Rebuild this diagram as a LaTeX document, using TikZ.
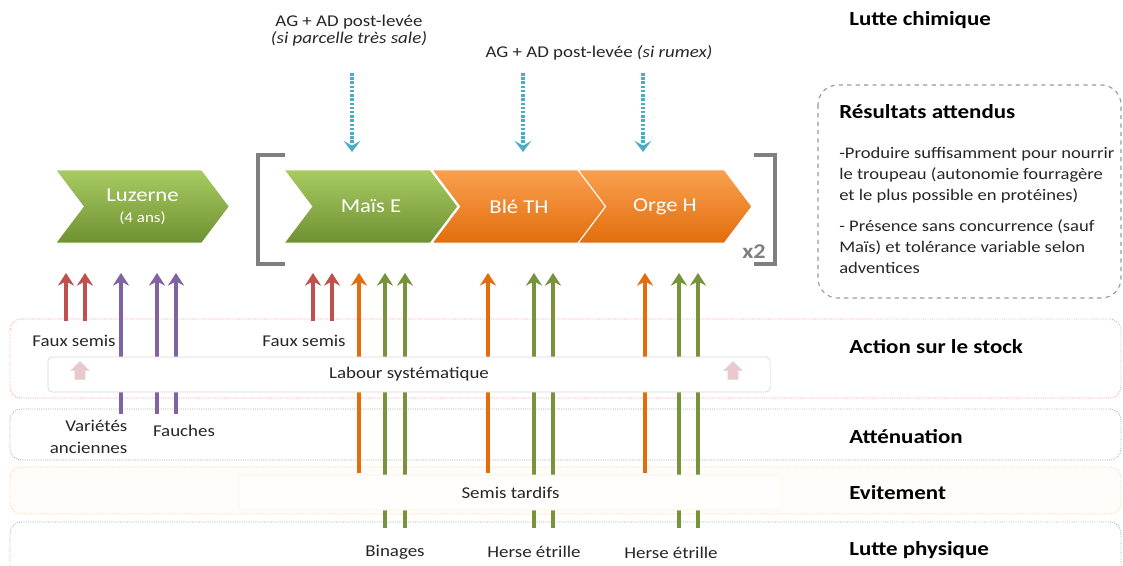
\documentclass[tikz,border=0pt]{standalone}
\usepackage{fontspec}
\setmainfont{Carlito}[FakeStretch=1.15]
\usetikzlibrary{arrows.meta,shapes.symbols,shapes.arrows}

\definecolor{grnTop}{HTML}{A9CB63}
\definecolor{grnBot}{HTML}{6E9131}
\definecolor{orgTop}{HTML}{FAA050}
\definecolor{orgBot}{HTML}{E26D0C}
\definecolor{redA}{HTML}{C0504D}
\definecolor{purp}{HTML}{8064A2}
\definecolor{orng}{HTML}{E46C0A}
\definecolor{grn}{HTML}{77933C}
\definecolor{chemblue}{HTML}{4BACC6}
\definecolor{brk}{HTML}{7F7F7F}
\definecolor{pinkfill}{HTML}{EBC8CD}

\begin{document}
\begin{tikzpicture}[x=0.025cm, y=-0.025cm,
  lbl/.style={font=\fontsize{11.7}{15.6}\selectfont, text=black!85, inner sep=1pt},
  level/.style={font=\bfseries\fontsize{14.2}{17}\selectfont, anchor=west, inner sep=0pt},
  body/.style={font=\fontsize{11.5}{14.9}\selectfont, text=black!85, anchor=base west,
               align=left, inner sep=0pt},
  chev/.style={signal, signal from=west, signal to=east, signal pointer angle=106,
               minimum width=4.35cm, minimum height=1.83cm, inner sep=0pt, draw=white,
               line width=0.8pt, text=white, font=\fontsize{14}{17}\selectfont, align=center},
  green chev/.style={chev, top color=grnTop, bottom color=grnBot},
  orange chev/.style={chev, top color=orgTop, bottom color=orgBot},
  up/.style={-{Stealth[length=9pt, width=11.5pt, inset=3pt]}, line width=2.6pt},
  chem/.style={-{Stealth[length=8pt, width=12pt, inset=3.5pt]}, line width=2.6pt,
               chemblue, dash pattern=on 1.8pt off 1.2pt},
  band/.style={rounded corners=8pt, line width=0.6pt, densely dotted},
  inbox/.style={draw=black!15, rounded corners=3pt, line width=0.5pt, inner sep=0pt,
                font=\fontsize{11.7}{14}\selectfont, text=black!85},
  pinkup/.style={single arrow, draw=black!15, fill=pinkfill, rotate=90, inner sep=0.12cm,
                 minimum height=0.45cm, single arrow head extend=0.1cm},
]
\useasboundingbox (0,0) rectangle (1123,565);

% Bands (levels of control)
\draw[band, draw=red!40, fill=white] (10,319) rectangle (1121,398);
\draw[band, draw=black!35, fill=white] (10,409) rectangle (1121,460);
\draw[band, draw=orange!40, fill=orange!2] (10,467) rectangle (1121,514);
\draw[band, draw=black!35, fill=white] (10,522) rectangle (1121,600);

% Level labels
\node[level] (chim) at (849,20) {Lutte chimique};
\node[level] (stock) at (849,347) {Action sur le stock};
\node[level] (att) at (849,437) {Atténuation};
\node[level] (evit) at (849,493) {Evitement};
\node[level] (phys) at (849,550) {Lutte physique};

% === Rotation ===
\node[green chev] (luz) at (142.5,206.5) {Luzerne\\[-2pt]{\fontsize{10.5}{12}\selectfont(4 ans)}};
\node[green chev] (mais) at (371,206.5) {Maïs E};
\node[orange chev] (ble) at (519,206.5) {Blé TH};
\node[orange chev] (orge) at (665,206.5) {Orge H};

% Brackets x2
\draw[brk, line width=3pt] (285,155) -- (258,155) -- (258,264) -- (285,264);
\draw[brk, line width=3pt] (754,155) -- (775,155) -- (775,264) -- (754,264);
\node[font=\bfseries\fontsize{15}{17}\selectfont, text=brk] (rep) at (754,252) {x2};

% Chemical control
\node[lbl] (ag1) at (349,22) {AG + AD post-levée};
\node[lbl, font=\itshape\fontsize{11.7}{14}\selectfont] (ag1s) at (349,39) {(si parcelle très sale)};
\node[lbl] (ag2) at (599,53) {AG + AD post-levée \textit{(si rumex)}};
\foreach \x [count=\i] in {352,523,643}{
  \coordinate (ct\i) at (\x,73);
  \coordinate (cb\i) at (\x,152);
  \draw[chem] (ct\i) -- (cb\i);
}

% Up arrows: x / colour / foot
\foreach \x/\c/\yb [count=\i] in {66/redA/321, 85/redA/321, 121/purp/414, 157/purp/414,
    176/purp/414, 313/redA/321, 332/redA/321, 359/orng/473, 385/grn/528, 405/grn/528,
    488/orng/473, 534/grn/528, 553/grn/528, 645/orng/473, 679/grn/528, 698/grn/528}{
  \coordinate (lo\i) at (\x,\yb);
  \coordinate (hi\i) at (\x,273);
  \draw[up, \c] (lo\i) -- (hi\i);
}

% Inner boxes
\node[inbox, fill=white, minimum width=18.05cm, minimum height=0.875cm] (labour) at (409,374.5) {Labour systématique};
\node[inbox, draw=orange!10, fill=orange!1, minimum width=13.575cm, minimum height=0.875cm] (semis) at (510.5,492.5) {Semis tardifs};
\node[pinkup] (pk1) at (80,373) {};
\node[pinkup] (pk2) at (733,373) {};

% Action labels
\node[lbl] (fs1) at (74,341) {Faux semis};
\node[lbl] (fs2) at (304,341) {Faux semis};
\node[lbl, align=right, anchor=east] (var) at (129,437) {Variétés\\anciennes};
\node[lbl] (fau) at (184,431) {Fauches};
\node[lbl] (bin) at (395,552) {Binages};
\node[lbl] (he1) at (534,552) {Herse étrille};
\node[lbl] (he2) at (671,553) {Herse étrille};

% Expected results
\draw[dashed, black!40, line width=0.8pt, rounded corners=14pt] (818,85) rectangle (1121,298);
\node[anchor=base west, inner sep=0pt, font=\bfseries\fontsize{14.2}{17}\selectfont] (res_t) at (839,118) {Résultats attendus};
\node[body] (res_a) at (839,200) {-Produire suffisamment pour nourrir\\le troupeau (autonomie fourragère\\et le plus possible en protéines)};
\node[body] (res_b) at (839,273) {- Présence sans concurrence (sauf\\Maïs) et tolérance variable selon\\adventices};

\end{tikzpicture}
\end{document}
